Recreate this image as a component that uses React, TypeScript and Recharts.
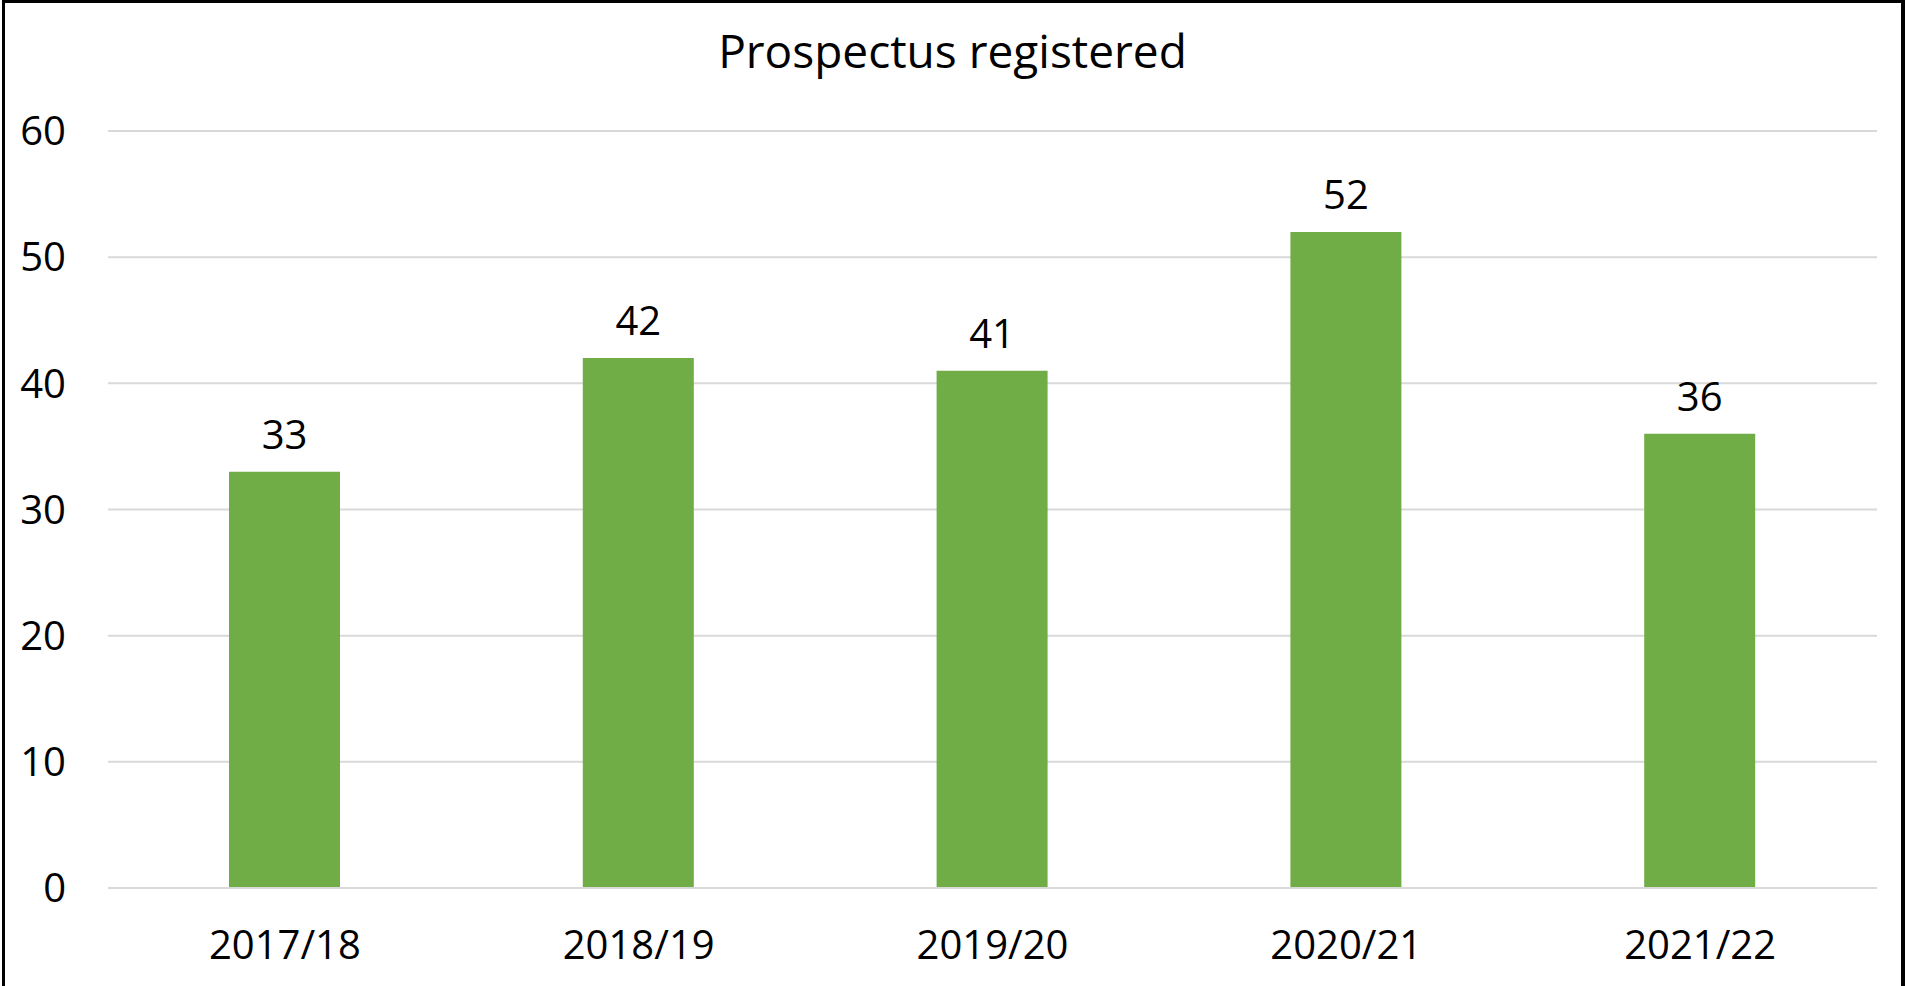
import { BarChart, Bar, XAxis, YAxis, CartesianGrid, LabelList } from 'recharts'

const years = ['2017/18', '2018/19', '2019/20', '2020/21', '2021/22']
const registered = [33, 42, 41, 52, 36]
const yTicks = [0, 10, 20, 30, 40, 50, 60]

const data = years.map((year, i) => ({ year, registered: registered[i] }))

const font = '"Open Sans", sans-serif'

export default function App() {
  return (
    <div style={{ position: 'absolute', left: 0, top: 0, width: 1905, height: 986, overflow: 'hidden', background: '#fff' }}>
      {/* frame */}
      <div
        style={{
          position: 'absolute', left: 2, top: 0, width: 1903, height: 1000, boxSizing: 'border-box',
          borderTop: '3px solid #000', borderLeft: '3px solid #000', borderRight: '4px solid #000',
        }}
      />
      <div
        style={{
          position: 'absolute', left: 0, top: 27, width: 1905, textAlign: 'center',
          fontFamily: font, fontSize: 46, lineHeight: 1, color: '#000',
        }}
      >
        Prospectus registered
      </div>
      <div style={{ position: 'absolute', left: 0, top: 0 }}>
        <BarChart width={1905} height={986} data={data} margin={{ top: 131, right: 28, left: 0, bottom: 0 }}>
          <CartesianGrid vertical={false} stroke="#D9D9D9" strokeWidth={2} />
          <XAxis
            dataKey="year"
            height={98}
            axisLine={{ stroke: '#D9D9D9', strokeWidth: 2 }}
            tickLine={false}
            tickMargin={37}
            tick={{ fontSize: 40, fill: '#000', fontFamily: font }}
          />
          <YAxis
            width={108}
            domain={[0, 60]}
            ticks={yTicks}
            axisLine={false}
            tickLine={false}
            tickMargin={36}
            tick={{ fontSize: 40, fill: '#000', fontFamily: font }}
          />
          <Bar dataKey="registered" fill="#70AD47" barSize={111} isAnimationActive={false}>
            <LabelList dataKey="registered" position="top" offset={23} fill="#000" fontSize={40} fontFamily={font} />
          </Bar>
        </BarChart>
      </div>
    </div>
  )
}
